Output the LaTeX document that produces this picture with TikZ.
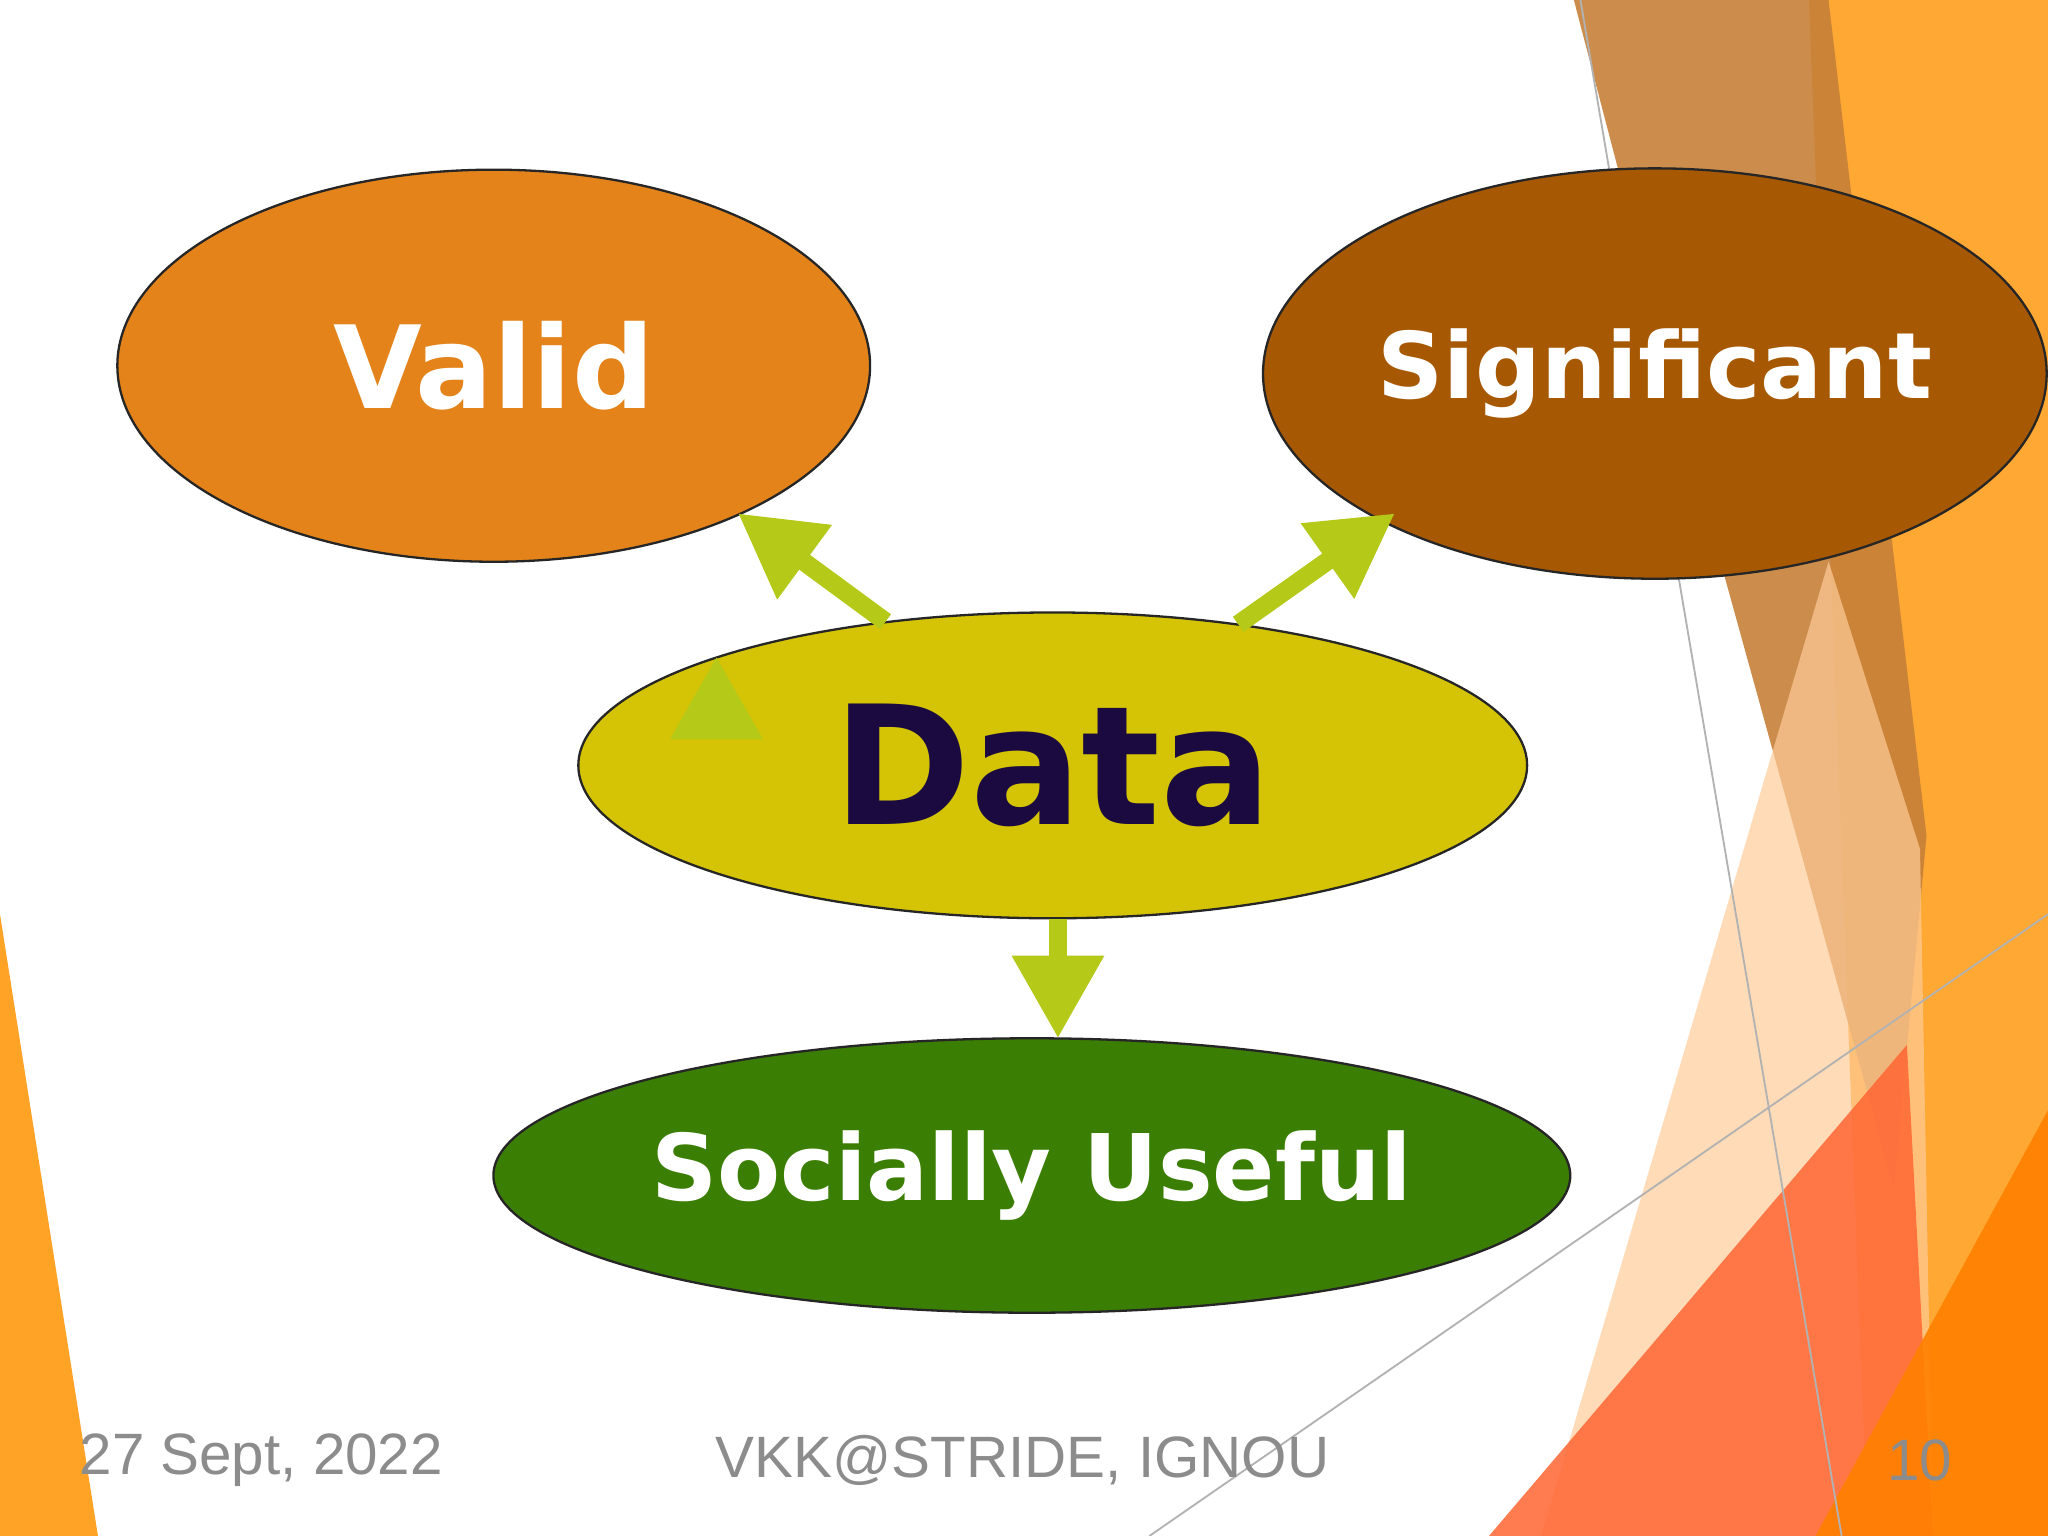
\documentclass[tikz,border=0pt]{standalone}
\usepackage{fontspec}
\setmainfont{DejaVu Sans}
\newfontfamily\footfont{Liberation Sans}
\usetikzlibrary{arrows.meta,shapes.geometric}
\definecolor{cvalid}{HTML}{E3831A}
\definecolor{csig}{HTML}{A65802}
\definecolor{cdata}{HTML}{D4C405}
\definecolor{csoc}{HTML}{3B7E04}
\definecolor{carrow}{HTML}{B5C918}
\definecolor{cdtext}{HTML}{1A0A40}
\tikzset{
  oval/.style={ellipse,draw=black!70!gray,line width=0.5pt,inner sep=0pt,font=\bfseries,text=white},
  bigarrow/.style={carrow,line width=4pt,-{Triangle[length=18pt,width=19pt]}},
  foot/.style={text=black!45,font=\footfont\fontsize{12.7}{14}\selectfont,anchor=center}
}
\begin{document}
\begin{tikzpicture}[x=0.01cm,y=-0.01cm]
\useasboundingbox (0,0) rectangle (1568,1176);
\fill[white] (0,0) rectangle (1568,1176);
% decorations
\fill[orange!85!yellow,opacity=0.8] (1385,0) -- (1568,0) -- (1568,1176) -- (1430,1176) -- cycle;
\fill[brown!70!red!60!white,opacity=0.9,fill=brown!90!orange] (1205,0) -- (1400,0) -- (1475,640) -- (1450,910) -- (1320,440) -- cycle;
\fill[orange!40!white,opacity=0.7] (1180,1176) -- (1400,430) -- (1470,650) -- (1480,1176) -- cycle;
\fill[red!50!orange!80!white,opacity=0.85] (1140,1176) -- (1460,800) -- (1480,1176) -- cycle;
\fill[orange,opacity=0.9] (1390,1176) -- (1568,850) -- (1568,1176) -- cycle;
\fill[orange!85!yellow,opacity=0.85] (0,700) -- (75,1176) -- (0,1176) -- cycle;
\draw[gray!60,line width=0.4pt] (1210,0) -- (1410,1176);
\draw[gray!60,line width=0.4pt] (880,1176) -- (1568,700);
% nodes
\node[oval,fill=cvalid,minimum width=576\pgflinewidth*0+5.76cm,minimum height=3cm,font=\bfseries\fontsize{25}{30}\selectfont] (v) at (378,280) {Valid};
\node[oval,fill=csig,minimum width=5.5cm,minimum height=3.14cm,font=\bfseries\fontsize{20}{24}\selectfont] (s) at (1267,286) {Significant};
\node[oval,fill=cdata,text=cdtext,minimum width=7.26cm,minimum height=2.34cm,font=\bfseries\fontsize{36}{40}\selectfont] (d) at (806,586) {Data};
\node[oval,fill=csoc,minimum width=8.24cm,minimum height=2.1cm,font=\bfseries\fontsize{20}{24}\selectfont] (u) at (790,900) {Socially Useful};
% arrows
\draw[bigarrow] (d.north west) ++(0,0) coordinate (a1);
\draw[bigarrow] (678,476) coordinate (p1) -- (565,393) coordinate (q1);
\draw[bigarrow] (948,478) coordinate (p2) -- (1068,393) coordinate (q2);
\draw[bigarrow] (d.south) ++(4,0) coordinate (p3) -- (810,795) coordinate (q3);
% footer
\node[foot] (f1) at (200,1118) {27 Sept, 2022};
\node[foot] (f2) at (783,1118) {VKK@STRIDE, IGNOU};
\node[foot] (f3) at (1470,1118) {10};
\end{tikzpicture}
\end{document}
